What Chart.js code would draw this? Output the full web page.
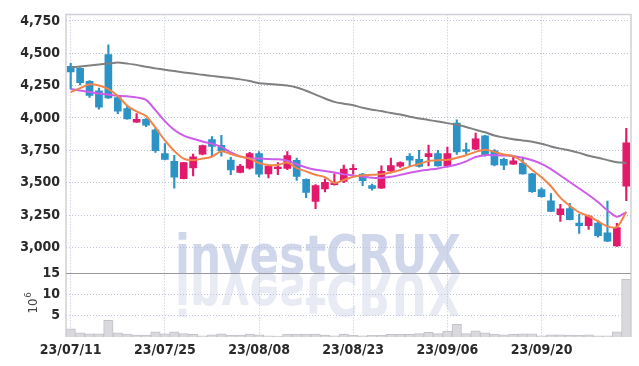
<!DOCTYPE html>
<html><head><meta charset="utf-8">
<style>html,body{margin:0;padding:0;background:#fff;}canvas{display:block;}</style>
<script src="https://cdn.jsdelivr.net/npm/chart.js@4.4.0/dist/chart.umd.min.js"></script>
</head><body>
<canvas id="c" width="639" height="366"></canvas>
<script>
// ---- data ----
const dates = ['23/07/11','23/07/12','23/07/13','23/07/14','23/07/17','23/07/18','23/07/19','23/07/20','23/07/21','23/07/24',
 '23/07/25','23/07/26','23/07/27','23/07/28','23/07/31','23/08/01','23/08/02','23/08/03','23/08/04','23/08/07',
 '23/08/08','23/08/09','23/08/10','23/08/11','23/08/14','23/08/16','23/08/17','23/08/18','23/08/21','23/08/22',
 '23/08/23','23/08/24','23/08/25','23/08/28','23/08/29','23/08/30','23/08/31','23/09/01','23/09/04','23/09/05',
 '23/09/06','23/09/07','23/09/08','23/09/11','23/09/12','23/09/13','23/09/14','23/09/15','23/09/18','23/09/19',
 '23/09/20','23/09/21','23/09/22','23/09/25','23/09/26','23/09/27','23/10/04','23/10/05','23/10/06','23/10/10'];
const openP = [4399,4384,4283,4210,4490,4157,4073,3967,3990,3909,
 3725,3664,3530,3614,3720,3833,3788,3674,3579,3612,
 3725,3568,3608,3610,3672,3525,3355,3452,3485,3510,
 3600,3566,3477,3458,3590,3628,3703,3680,3700,3725,
 3629,3960,3756,3758,3862,3745,3680,3643,3650,3568,
 3447,3359,3253,3300,3187,3168,3187,3112,3011,3473];
const highP = [4422,4390,4288,4230,4564,4167,4100,4033,3995,3920,
 3801,3711,3658,3720,3790,3856,3865,3695,3642,3735,
 3740,3632,3655,3740,3690,3530,3485,3530,3568,3635,
 3640,3572,3490,3630,3690,3660,3725,3750,3790,3750,
 3775,3985,3805,3884,3865,3755,3690,3695,3698,3572,
 3460,3415,3333,3340,3255,3250,3208,3357,3185,3920];
const lowP = [4225,4255,4159,4068,4150,4033,3990,3965,3932,3733,
 3675,3458,3528,3553,3715,3705,3705,3561,3575,3605,
 3545,3536,3561,3600,3518,3385,3300,3428,3480,3500,
 3565,3477,3442,3455,3575,3618,3632,3620,3630,3628,
 3622,3718,3720,3755,3705,3630,3600,3640,3565,3425,
 3388,3275,3200,3212,3108,3138,3078,3045,3008,3360];
const closeP = [4356,4273,4174,4083,4155,4053,3992,3990,3945,3748,
 3680,3543,3655,3700,3786,3780,3745,3598,3629,3725,
 3566,3629,3620,3710,3548,3425,3478,3503,3497,3605,
 3610,3515,3455,3587,3632,3655,3674,3625,3725,3630,
 3725,3738,3742,3838,3708,3637,3636,3668,3568,3430,
 3392,3278,3298,3215,3168,3242,3090,3048,3152,3808];
const volume = [1.9,1.0,0.76,0.76,3.9,1.0,0.7,0.46,0.46,1.2,
 0.76,1.2,0.8,0.6,0.3,0.5,0.76,0.46,0.38,0.7,
 0.5,0.3,0.23,0.7,0.7,0.7,0.7,0.46,0.3,0.7,
 0.4,0.25,0.4,0.4,0.6,0.6,0.6,0.8,1.1,0.8,
 1.4,3.0,0.8,1.45,1.0,0.7,0.5,0.6,0.76,0.76,
 0.3,0.5,0.5,0.45,0.4,0.5,0.25,0.3,1.2,13.6];
const ma5 = [4200,4230,4260,4250,4223,4170,4095,4050,4015,3925,
 3826,3745,3685,3674,3686,3700,3743,3722,3702,3686,
 3652,3636,3636,3655,3613,3587,3561,3543,3498,3520,
 3545,3557,3561,3566,3579,3598,3624,3644,3667,3674,
 3676,3692,3712,3738,3755,3738,3717,3705,3662,3598,
 3541,3472,3384,3321,3270,3242,3202,3162,3157,3275];
const ma10 = [4223,4212,4200,4188,4180,4172,4167,4159,4140,4060,
 3975,3907,3864,3839,3818,3800,3776,3733,3703,3688,
 3686,3682,3680,3670,3642,3617,3600,3590,3578,3564,
 3556,3548,3538,3536,3545,3560,3576,3590,3600,3610,
 3624,3640,3665,3698,3712,3712,3710,3706,3692,3673,
 3645,3605,3555,3505,3455,3405,3350,3285,3237,3272];
const ma60 = [4390,4397,4405,4413,4420,4428,4420,4410,4395,4383,
 4372,4362,4352,4343,4333,4325,4316,4308,4298,4285,
 4268,4262,4257,4250,4235,4210,4180,4150,4124,4110,
 4098,4079,4064,4053,4038,4026,4010,3995,3985,3973,
 3960,3947,3930,3909,3889,3864,3849,3836,3826,3816,
 3801,3780,3763,3748,3730,3708,3692,3674,3657,3652];
const priceTicks = [3000,3250,3500,3750,4000,4250,4500,4750];
const volTicks = [5,10,15];
const labelEvery = 10;

// ---- styles ----
const FONT = "'Liberation Sans Narrow','DejaVu Sans Condensed','Liberation Sans',sans-serif";
const UP = '#e3196b', DOWN = '#2c93c7';
const GRID = '#bcc2da';
const candleColor = c => (closeP[c.dataIndex] >= openP[c.dataIndex] ? UP : DOWN);

const bodies = dates.map((_, i) => [openP[i], closeP[i]]);
const wicks = dates.map((_, i) => [lowP[i], highP[i]]);

const deco = {
  id: 'deco',
  beforeDraw(chart) {
    const ctx = chart.ctx, yv = chart.scales.yv;
    ctx.save();
    ctx.fillStyle = '#fff';
    ctx.fillRect(0, 0, chart.width, chart.height);
    const txt = 'investCRUX';
    ctx.font = "bold 53px 'DejaVu Sans', sans-serif";
    const w = ctx.measureText(txt).width;
    const sx = 286 / w;
    const base = yv.top;
    ctx.translate(175, base);
    ctx.scale(sx, 1);
    ctx.fillStyle = 'rgba(178,188,222,0.6)';
    ctx.fillText(txt, 0, 0);
    ctx.scale(1, -1.08);
    ctx.fillStyle = 'rgba(196,202,226,0.38)';
    ctx.fillText(txt, 0, -1);
    ctx.restore();
  },
  afterDraw(chart) {
    const ctx = chart.ctx, a = chart.chartArea, yv = chart.scales.yv;
    ctx.save();
    ctx.strokeStyle = '#d0d0d6';
    ctx.lineWidth = 1.5;
    ctx.beginPath();
    ctx.moveTo(a.left, a.bottom); ctx.lineTo(a.left, a.top); ctx.lineTo(a.right, a.top); ctx.lineTo(a.right, a.bottom);
    ctx.stroke();
    ctx.strokeStyle = '#9a9aa2';
    ctx.lineWidth = 1;
    ctx.beginPath();
    ctx.moveTo(a.left, Math.round(yv.top) + 0.5); ctx.lineTo(a.right, Math.round(yv.top) + 0.5);
    ctx.stroke();
    // axis unit title 10^6
    ctx.fillStyle = '#444';
    ctx.translate(37, 303);
    ctx.rotate(-Math.PI / 2);
    ctx.textBaseline = 'alphabetic';
    ctx.font = "13px 'DejaVu Sans Condensed', sans-serif";
    const w10 = ctx.measureText('10').width;
    ctx.fillText('10', -w10 / 2 - 3, 0);
    ctx.font = "9px 'DejaVu Sans Condensed', sans-serif";
    ctx.fillText('6', w10 / 2 - 2, -6);
    ctx.restore();
  }
};

const tickFont = { family: FONT, size: 14, weight: 'bold' };

new Chart(document.getElementById('c'), {
  type: 'bar',
  data: {
    labels: dates,
    datasets: [
      { type: 'line', label: 'MA5', data: ma5, yAxisID: 'y', borderColor: '#f0854a', borderWidth: 2, pointRadius: 0, tension: 0.3, order: 0 },
      { type: 'line', label: 'MA10', data: ma10, yAxisID: 'y', borderColor: '#cd5ce9', borderWidth: 2, pointRadius: 0, tension: 0.3, order: 1 },
      { type: 'line', label: 'MA60', data: ma60, yAxisID: 'y', borderColor: '#808080', borderWidth: 2, pointRadius: 0, tension: 0.3, order: 2 },
      { label: 'body', data: bodies, yAxisID: 'y', backgroundColor: candleColor, barThickness: 7, grouped: false, order: 3 },
      { label: 'wick', data: wicks, yAxisID: 'y', backgroundColor: candleColor, barThickness: 1.5, grouped: false, order: 4 },
      { label: 'volume', data: volume, yAxisID: 'yv', backgroundColor: '#d8d8dd', borderColor: '#c2c2c9', borderWidth: 1, barPercentage: 1, categoryPercentage: 1, grouped: false, order: 5 }
    ]
  },
  options: {
    responsive: false,
    animation: false,
    layout: { padding: { top: 8, right: 8, left: 0, bottom: 0 } },
    plugins: { legend: { display: false }, tooltip: { enabled: false } },
    scales: {
      x: {
        offset: true,
        grid: { offset: false, color: GRID, drawTicks: false },
        border: { display: false, dash: [1, 2] },
        afterBuildTicks: s => { s.ticks = s.ticks.filter(t => t.value % labelEvery === 0); },
        afterFit: s => { s.height = 29; },
        ticks: { autoSkip: false, maxRotation: 0, padding: 5, color: '#2a2a2a', font: tickFont }
      },
      yv: {
        type: 'linear', position: 'left', stack: 'main', stackWeight: 65,
        min: 0, max: 15,
        afterBuildTicks: s => { s.ticks = volTicks.map(v => ({ value: v })); },
        afterFit: s => { s.width = 66; },
        grid: { color: c => (c.tick && c.tick.value === 15 ? 'rgba(0,0,0,0)' : GRID), drawTicks: false },
        border: { display: false, dash: [1, 2] },
        ticks: { autoSkip: false, padding: 6, color: '#2a2a2a', font: tickFont }
      },
      y: {
        type: 'linear', position: 'left', stack: 'main', stackWeight: 264,
        min: 2800, max: 4800,
        afterBuildTicks: s => { s.ticks = priceTicks.map(v => ({ value: v })); },
        afterFit: s => { s.width = 66; },
        grid: { color: GRID, drawTicks: false },
        border: { display: false, dash: [1, 2] },
        ticks: { autoSkip: false, padding: 6, color: '#2a2a2a', font: tickFont, callback: v => v.toLocaleString('en-US') }
      }
    }
  },
  plugins: [deco]
});
</script>
</body></html>
